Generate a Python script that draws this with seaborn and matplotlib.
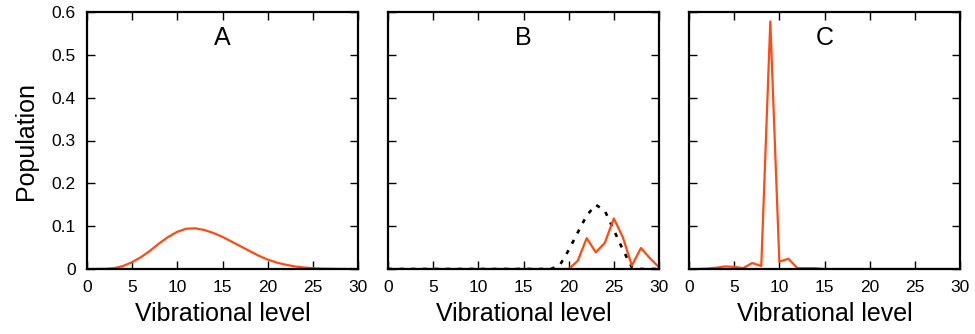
import numpy as np
import pandas as pd
import matplotlib
matplotlib.use("Agg")
import matplotlib.pyplot as plt
import seaborn as sns

# ==============================
# DATA
# ==============================

levels = list(range(31))

pop_a = [0.0, 0.0001, 0.0005, 0.002, 0.007, 0.016, 0.028, 0.043, 0.060, 0.075,
         0.087, 0.094, 0.095, 0.091, 0.084, 0.075, 0.064, 0.053, 0.042, 0.031,
         0.022, 0.015, 0.010, 0.006, 0.0035, 0.002, 0.001, 0.0005, 0.0002, 0.0001, 0.0]

pop_b = [0.0] * 20 + [0.0, 0.019, 0.072, 0.039, 0.061, 0.118, 0.074, 0.008, 0.049, 0.025, 0.004]

pop_b_ref = [0.0] * 19 + [0.008, 0.044, 0.085, 0.125, 0.15, 0.136, 0.091, 0.045, 0.004, 0.0, 0.0, 0.0]

pop_c = [0.0, 0.0, 0.001, 0.003, 0.006, 0.005, 0.002, 0.014, 0.007, 0.578,
         0.017, 0.024, 0.002, 0.002, 0.002] + [0.0] * 16

panel_labels = ["A", "B", "C"]

# ==============================
# STYLE
# ==============================

sns.set_style("ticks", {"text.color": "black", "axes.labelcolor": "black",
                        "xtick.color": "black", "ytick.color": "black"})
plt.rcParams["font.family"] = ["Liberation Sans", "DejaVu Sans"]

orange = "#ff4a10"

fig = plt.figure(figsize=(9.75, 3.34), dpi=100)

lefts = [87 / 975, 388 / 975, 689 / 975]
width = 271 / 975
bottom = (334 - 269) / 334
height = 257 / 334

series = [pop_a, pop_b, pop_c]

for i, left in enumerate(lefts):
    ax = fig.add_axes([left, bottom, width, height])

    if i == 1:
        sns.lineplot(x=levels, y=pop_b_ref, ax=ax, color="black",
                     linestyle=(0, (1.6, 2.8)), linewidth=1.9)
    sns.lineplot(x=levels, y=series[i], ax=ax, color=orange, linewidth=1.6)

    ax.set_xlim(0, 30)
    ax.set_ylim(0, 0.6)
    ax.set_xticks(range(0, 31, 5))
    ax.set_yticks(np.arange(0, 0.61, 0.1))
    ax.set_yticklabels(["0", "0.1", "0.2", "0.3", "0.4", "0.5", "0.6"])
    ax.tick_params(direction="in", length=6, width=1, top=True, right=True,
                   labelsize=12.5, colors="black", pad=8)
    for s in ax.spines.values():
        s.set_linewidth(1.6)
        s.set_color("black")
        s.set_visible(True)

    if i > 0:
        ax.set_yticklabels([])
    else:
        ax.set_ylabel("Population", fontsize=18, labelpad=10, color="black")

    ax.set_xlabel("Vibrational level", fontsize=18, labelpad=5, color="black")
    ax.text(15, 0.54, panel_labels[i], ha="center", va="center", fontsize=18,
            color="black")

fig.savefig("out.png", dpi=100)
